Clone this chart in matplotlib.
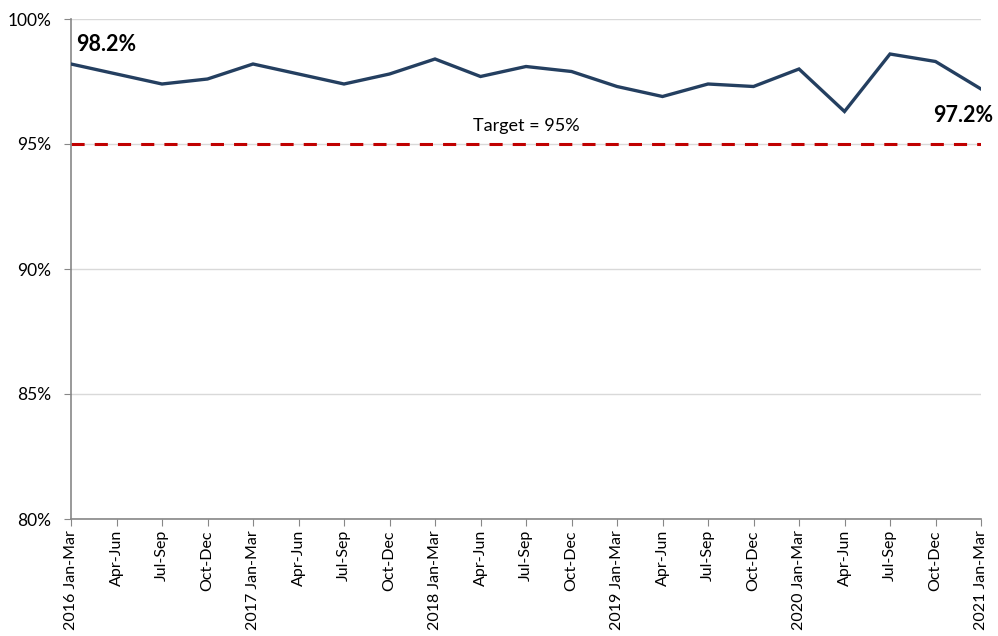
#!/usr/bin/env python3

import matplotlib
matplotlib.use('Agg')
import matplotlib.pyplot as plt
from matplotlib.ticker import FuncFormatter

# quarter labels along the x axis
quarters = ['2016 Jan-Mar', 'Apr-Jun', 'Jul-Sep', 'Oct-Dec',
            '2017 Jan-Mar', 'Apr-Jun', 'Jul-Sep', 'Oct-Dec',
            '2018 Jan-Mar', 'Apr-Jun', 'Jul-Sep', 'Oct-Dec',
            '2019 Jan-Mar', 'Apr-Jun', 'Jul-Sep', 'Oct-Dec',
            '2020 Jan-Mar', 'Apr-Jun', 'Jul-Sep', 'Oct-Dec',
            '2021 Jan-Mar']

# percentage per quarter
values = [98.2, 97.8, 97.4, 97.6,
          98.2, 97.8, 97.4, 97.8,
          98.4, 97.7, 98.1, 97.9,
          97.3, 96.9, 97.4, 97.3,
          98.0, 96.3, 98.6, 98.3,
          97.2]

target = 95
yticks = [80, 85, 90, 95, 100]

plt.rcParams['font.family'] = ['Lato', 'DejaVu Sans']

fig = plt.figure(figsize=(9.98, 6.36), dpi=100)
ax = fig.add_axes([71 / 998, 117 / 636, 910 / 998, 500 / 636])

x = list(range(len(quarters)))

# target line first so the series sits on top
ax.axhline(target, color='#C00000', lw=2.2, linestyle=(0, (4.3, 3.3)), zorder=2)
ax.text((len(quarters) - 1) / 2, target + 0.4, 'Target = 95%',
        ha='center', va='bottom', fontsize=13, color='black')

ax.plot(x, values, color='#243F60', lw=2.4, zorder=3, solid_joinstyle='miter')

# first and last value labels
ax.annotate('%.1f%%' % values[0], (x[0], values[0]), xytext=(4, 14),
            textcoords='offset points', ha='left', va='center',
            fontsize=15.5, fontweight='bold', annotation_clip=False)
ax.annotate('%.1f%%' % values[-1], (x[-1], values[-1]), xytext=(9, -19),
            textcoords='offset points', ha='right', va='center',
            fontsize=15.5, fontweight='bold', annotation_clip=False)

ax.set_xlim(0, len(quarters) - 1)
ax.set_ylim(80, 100)
ax.set_yticks(yticks)
ax.yaxis.set_major_formatter(FuncFormatter(lambda v, p: '%d%%' % v))
ax.set_xticks(x)
ax.set_xticklabels(quarters, rotation=90, fontsize=11.5)
ax.tick_params(axis='y', labelsize=12.5, length=5, color='#878787', pad=9)
ax.tick_params(axis='x', length=5, color='#878787', pad=3)

ax.grid(axis='y', color='#D9D9D9', lw=1)
ax.set_axisbelow(True)
for side in ['top', 'right']:
  ax.spines[side].set_visible(False)
for side in ['left', 'bottom']:
  ax.spines[side].set_color('#878787')
  ax.spines[side].set_linewidth(1.2)

fig.savefig('out.png', dpi=100)
